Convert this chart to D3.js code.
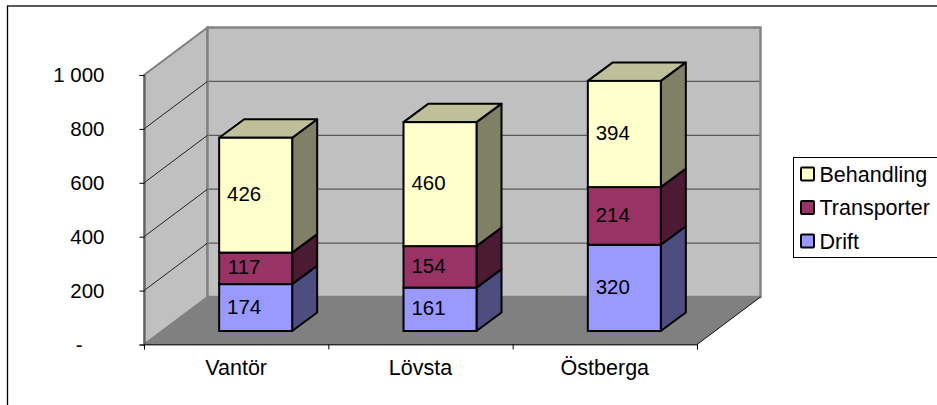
<!DOCTYPE html>
<html>
<head>
<meta charset="utf-8">
<script src="https://cdn.jsdelivr.net/npm/d3@7"></script>
<style>
  html, body { margin: 0; padding: 0; background: #fff; overflow: hidden; }
  svg { display: block; font-family: "Liberation Sans", Arial, sans-serif; }
</style>
</head>
<body>
<div id="chart"></div>
<script>
const categories = ["Vantör", "Lövsta", "Östberga"];
const seriesNames = ["Drift", "Transporter", "Behandling"];
const drift = [174, 161, 320];
const transporter = [117, 154, 214];
const behandling = [426, 460, 394];
const yTicks = [0, 200, 400, 600, 800, 1000];
const yTickLabels = ["-", "200", "400", "600", "800", "1 000"];

const frontColors = ["#9999ff", "#993366", "#ffffcc"];
const sideColors = ["#4d4d80", "#4d1a33", "#808066"];
const topColors = ["#ccccff", "#cc99b3", "#bfbf99"];

const width = 937, height = 405;
const fontSize = 20.5, labelSize = 21.5;
const depth = { x: 63.5, y: -47.5 }; // wall offset of the 3d box

const x = d3.scaleBand().domain(categories).range([144, 697]);
const y = d3.scaleLinear().domain([0, 1000]).range([344.5, 75]);

const svg = d3.select("#chart").append("svg")
    .attr("width", width)
    .attr("height", height);

// chart frame
svg.append("rect")
    .attr("x", 7.5).attr("y", 6)
    .attr("width", width).attr("height", height)
    .attr("fill", "#fff").attr("stroke", "#000").attr("stroke-width", 1.3);

const poly = (pts) => pts.map(p => p.join(",")).join(" ");
const wall = svg.append("g");
const left = x.range()[0], right = x.range()[1];

// floor
wall.append("polygon")
    .attr("points", poly([
        [left, y(0)], [right, y(0)],
        [right + depth.x, y(0) + depth.y], [left + depth.x, y(0) + depth.y]
    ]))
    .attr("fill", "#808080");

// side wall
wall.append("polygon")
    .attr("points", poly([
        [left, y(0)], [left, y(1000)],
        [left + depth.x, y(1000) + depth.y], [left + depth.x, y(0) + depth.y]
    ]))
    .attr("fill", "#c0c0c0").attr("stroke", "#808080").attr("stroke-width", 2);

// back wall
wall.append("rect")
    .attr("x", left + depth.x).attr("y", y(1000) + depth.y)
    .attr("width", right - left)
    .attr("height", y(0) - y(1000))
    .attr("fill", "#c0c0c0").attr("stroke", "#808080").attr("stroke-width", 2.4);

// floor edges
wall.append("polyline")
    .attr("points", poly([
        [left, y(0)], [right, y(0)], [right + depth.x, y(0) + depth.y]
    ]))
    .attr("fill", "none").attr("stroke", "#111").attr("stroke-width", 1);

// gridlines: thin black on the side wall, heavier gray on the back wall
yTicks.slice(1, -1).forEach(t => {
    wall.append("line")
        .attr("x1", left).attr("y1", y(t))
        .attr("x2", left + depth.x).attr("y2", y(t) + depth.y)
        .attr("stroke", "#111").attr("stroke-width", 0.9);
    wall.append("line")
        .attr("x1", left + depth.x + 1).attr("y1", y(t) + depth.y)
        .attr("x2", right + depth.x - 1).attr("y2", y(t) + depth.y)
        .attr("stroke", "#5a5a5a").attr("stroke-width", 1.3);
});

// axes
const yAxis = d3.axisLeft(y).tickValues(yTicks).tickSize(5).tickPadding(35)
    .tickFormat((d, i) => yTickLabels[i]);
const gy = svg.append("g").attr("transform", "translate(144.5,0)").call(yAxis);
const xAxis = d3.axisBottom(d3.scaleLinear().domain([0, 3]).range(x.range()))
    .tickValues([0, 1, 2, 3]).tickSize(5).tickFormat("");
const gx = svg.append("g").attr("transform", "translate(0,344.5)").call(xAxis);
[gy, gx].forEach(g => {
    g.selectAll("path").attr("stroke", "#444");
    g.selectAll("line").attr("stroke", "#000");
});
gy.selectAll("text")
    .attr("font-size", fontSize)
    .attr("font-family", "Liberation Sans")
    .attr("fill", "#000")
    // the zero label sits further left, its format pads the dash with spaces
    .attr("dx", d => d === 0 ? -22 : 0);

svg.append("g").selectAll("text")
    .data(categories)
    .join("text")
    .attr("x", d => x(d) + x.bandwidth() / 2)
    .attr("y", 375)
    .attr("text-anchor", "middle")
    .attr("font-size", labelSize)
    .text(d => d);

// bars
const rows = categories.map((c, i) => ({ key: c, Drift: drift[i], Transporter: transporter[i], Behandling: behandling[i] }));
const stacked = d3.stack().keys(seriesNames)(rows);
const barW = 73;
const barDx = 25, barDy = -18.5;
const barFloor = 331; // bars stand midway on the floor
const yy = v => barFloor - (y(0) - y(v));
const barX = c => x(c) + x.bandwidth() / 2 + 19.5 - barW / 2;

const bars = svg.append("g");
stacked.forEach((layer, s) => {
    const g = bars.append("g");
    layer.forEach(d => {
        const c = d.data.key;
        const x0 = barX(c), x1 = x0 + barW, y0 = yy(d[0]), y1 = yy(d[1]);
        g.append("polygon")
            .attr("points", poly([[x1, y0], [x1 + barDx, y0 + barDy], [x1 + barDx, y1 + barDy], [x1, y1]]))
            .attr("fill", sideColors[s]).attr("stroke", "#000").attr("stroke-width", 2).attr("stroke-linejoin", "round");
        if (s === seriesNames.length - 1) {
            g.append("polygon")
                .attr("points", poly([[x0, y1], [x1, y1], [x1 + barDx, y1 + barDy], [x0 + barDx, y1 + barDy]]))
                .attr("fill", topColors[s]).attr("stroke", "#000").attr("stroke-width", 2).attr("stroke-linejoin", "round");
        }
        g.append("rect")
            .attr("x", x0).attr("y", y1)
            .attr("width", barW).attr("height", y0 - y1)
            .attr("fill", frontColors[s]).attr("stroke", "#000").attr("stroke-width", 2);
        g.append("text")
            .attr("x", x0 + 25)
            .attr("y", (y0 + y1) / 2 + 6)
            .attr("text-anchor", "middle")
            .attr("font-size", fontSize)
            .text(d[1] - d[0]);
    });
});

// legend
const legend = svg.append("g");
legend.append("rect")
    .attr("x", 793.5).attr("y", 157.5)
    .attr("width", 150).attr("height", 100)
    .attr("fill", "#fff").attr("stroke", "#000");
seriesNames.slice().reverse().forEach((name, i) => {
    const ly = 174 + i * 33.5;
    legend.append("rect")
        .attr("x", 801).attr("y", ly - 6.5)
        .attr("width", 13).attr("height", 13)
        .attr("rx", 1)
        .attr("fill", frontColors[2 - i]).attr("stroke", "#000").attr("stroke-width", 2);
    legend.append("text")
        .attr("x", 819.5).attr("y", ly + 7.5)
        .attr("font-size", labelSize)
        .text(name);
});
</script>
</body>
</html>
